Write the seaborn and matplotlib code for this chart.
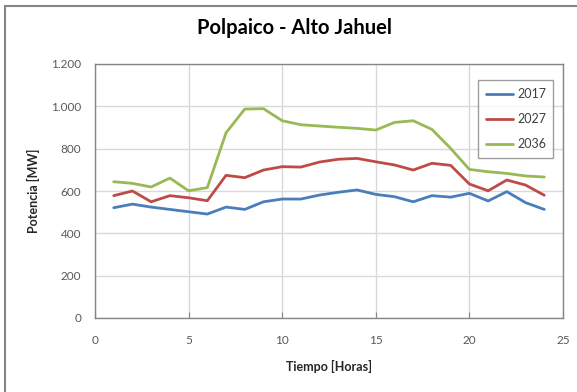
import matplotlib
matplotlib.use("Agg")
import matplotlib.pyplot as plt
import matplotlib.ticker as mticker
from matplotlib.lines import Line2D
import numpy as np
import pandas as pd
import seaborn as sns

# datos
horas = list(range(1, 25))
p2017 = [521, 538, 524, 513, 502, 491, 524, 513, 549, 562, 562, 581,
         594, 605, 584, 573, 549, 578, 571, 589, 553, 597, 545, 513]
p2027 = [578, 600, 549, 578, 568, 554, 674, 663, 699, 715, 713, 737,
         750, 754, 738, 723, 699, 731, 721, 633, 601, 652, 628, 580]
p2036 = [644, 636, 619, 661, 601, 616, 875, 987, 989, 932, 913, 907,
         901, 896, 888, 924, 932, 891, 801, 702, 691, 683, 671, 666]
series = ["2017", "2027", "2036"]
colores = ["#4a7ebb", "#be4b48", "#98b954"]

df = pd.DataFrame({"Hora": horas, "2017": p2017, "2027": p2027, "2036": p2036})
df = df.melt(id_vars="Hora", var_name="Año", value_name="Potencia")

sns.set_style("white")
plt.rcParams["font.family"] = ["Lato", "DejaVu Sans"]

fig = plt.figure(figsize=(5.77, 3.92), dpi=100)
ax = fig.add_axes([95 / 577, 1 - 318 / 392, (563 - 95) / 577, (318 - 64) / 392])

sns.lineplot(data=df, x="Hora", y="Potencia", hue="Año", hue_order=series,
             palette=colores, linewidth=2.0, ax=ax, legend=False)

ax.set_xlim(0, 25)
ax.set_ylim(0, 1200)
ax.set_xticks(range(0, 26, 5))
ax.set_yticks(range(0, 1201, 200))
ax.yaxis.set_major_formatter(mticker.FuncFormatter(lambda v, p: f"{int(v):,}".replace(",", ".")))
ax.grid(True, color="#d9d9d9", linewidth=1)
for s in ax.spines.values():
    s.set_color("#868686")
    s.set_linewidth(1)
ax.tick_params(axis="both", labelsize=8.5, labelcolor="#595959", length=0, pad=10)
ax.tick_params(axis="x", pad=12)
ax.tick_params(axis="x", bottom=True, length=4, color="#868686", direction="in")

ax.set_xlabel("Tiempo [Horas]", fontsize=9, fontweight="bold", color="#262626", labelpad=10)
ax.set_ylabel("Potencia [MW]", fontsize=9, fontweight="bold", color="#262626", labelpad=8)

fig.suptitle("Polpaico - Alto Jahuel", x=0.51, y=0.955, fontsize=14.5,
             fontweight="bold", color="#000000")

handles = [Line2D([0], [0], color=c, linewidth=2.0) for c in colores]
leg = ax.legend(handles, series, loc="upper right", bbox_to_anchor=(0.985, 0.945),
                fontsize=9, frameon=True, fancybox=False, handlelength=2.2,
                labelspacing=1.05, borderpad=0.6, handletextpad=0.3,
                borderaxespad=0.2)
leg.get_frame().set_edgecolor("#868686")
leg.get_frame().set_linewidth(1)
for t in leg.get_texts():
    t.set_color("#404040")

# borde del área del gráfico
fig.add_artist(Line2D([5 / 577, 1], [1 - 6 / 392, 1 - 6 / 392], color="#868686", linewidth=1.5))
fig.add_artist(Line2D([5 / 577, 5 / 577], [0, 1 - 6 / 392], color="#868686", linewidth=1.5))

fig.savefig("out.png", dpi=100)
